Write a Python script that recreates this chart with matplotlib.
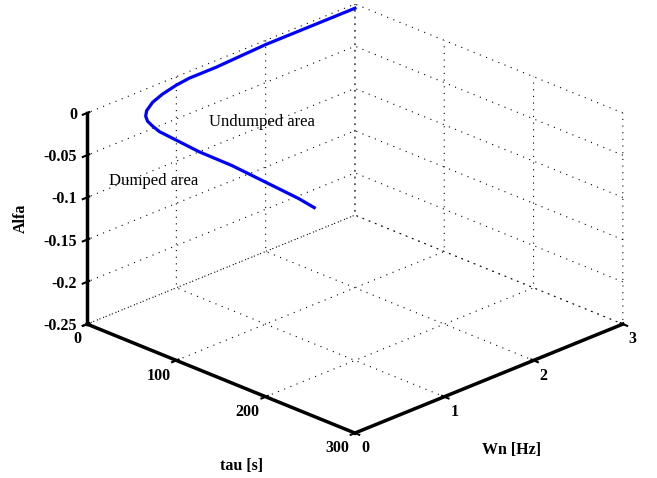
import numpy as np
import matplotlib.pyplot as plt

plt.rcParams['font.family'] = ['Liberation Serif', 'DejaVu Serif']
plt.rcParams['grid.color'] = 'black'
plt.rcParams['grid.linewidth'] = 0.8

# curve (lies on the tau = 0 wall)
wn = [3.0, 2.5, 2.0, 1.444, 1.144, 1.0, 0.844, 0.733, 0.667, 0.656, 0.678,
      0.733, 0.811, 0.956, 1.111, 1.256, 1.622, 2.0, 2.367, 2.544]
alfa = [-0.005, -0.005, -0.005, -0.008, -0.008, -0.010, -0.014, -0.019, -0.026,
        -0.032, -0.039, -0.047, -0.057, -0.071, -0.086, -0.100, -0.132, -0.168,
        -0.203, -0.2215]
tau = [0.0] * len(wn)

tau_ticks = [0, 100, 200, 300]
wn_ticks = [0, 1, 2, 3]
alfa_ticks = [-0.25, -0.2, -0.15, -0.1, -0.05, 0]

fig = plt.figure(figsize=(6.57, 4.78), dpi=100)
ax = fig.add_axes([20 / 657, 14 / 478, 1, 1], projection='3d', proj_type='ortho')
ax.view_init(elev=24, azim=-45)
ax.set_box_aspect((1, 1, 0.61), zoom=1.185)

ax.plot(tau, wn, alfa, color='#0000ff', linewidth=2.3)

ax.set_xlim(0, 300)
ax.set_ylim(0, 3)
ax.set_zlim(-0.25, 0)
ax.set_xticks(tau_ticks)
ax.set_yticks(wn_ticks)
ax.set_zticks(alfa_ticks)
ax.set_xticklabels([str(t) for t in tau_ticks])
ax.set_yticklabels([str(t) for t in wn_ticks])
ax.set_zticklabels(['-0.25', '-0.2', '-0.15', '-0.1', '-0.05', '0'])
ax.zaxis.set_ticks_position('lower')

for axis in (ax.xaxis, ax.yaxis, ax.zaxis):
    axis.set_pane_color((1, 1, 1, 0))
    axis.pane.set_edgecolor((1, 1, 1, 0))
    axis.line.set_linewidth(2.5)
    axis.line.set_color('black')
    axis._axinfo['tick']['linewidth'][True] = 1.5
    axis._axinfo['grid']['linestyle'] = (0, (1, 5))
for lab in ax.get_xticklabels() + ax.get_yticklabels() + ax.get_zticklabels():
    lab.set_fontsize(11.5)
    lab.set_fontweight('bold')
for lab in ax.get_xticklabels():
    lab.set_ha('right')
for lab in ax.get_yticklabels():
    lab.set_ha('left')
for lab in ax.get_zticklabels():
    lab.set_ha('right')
    lab.set_va('center_baseline')
ax.tick_params(axis='x', pad=-4)
ax.tick_params(axis='y', pad=-4)
ax.tick_params(axis='z', pad=-4.6)

fig.text(21 / 657, 1 - 218 / 478, 'Alfa', rotation=90, ha='center', va='center',
         fontsize=11.5, fontweight='bold')
fig.text(242 / 657, 1 - 466 / 478, 'tau [s]', ha='center', va='center',
         fontsize=11.5, fontweight='bold')
fig.text(512 / 657, 1 - 450 / 478, 'Wn [Hz]', ha='center', va='center',
         fontsize=11.5, fontweight='bold')
fig.text(262 / 657, 1 - 122 / 478, 'Undumped area', ha='center', va='center',
         fontsize=12)
fig.text(154 / 657, 1 - 181 / 478, 'Dumped area', ha='center', va='center',
         fontsize=12)

fig.savefig('out.png', dpi=100)
